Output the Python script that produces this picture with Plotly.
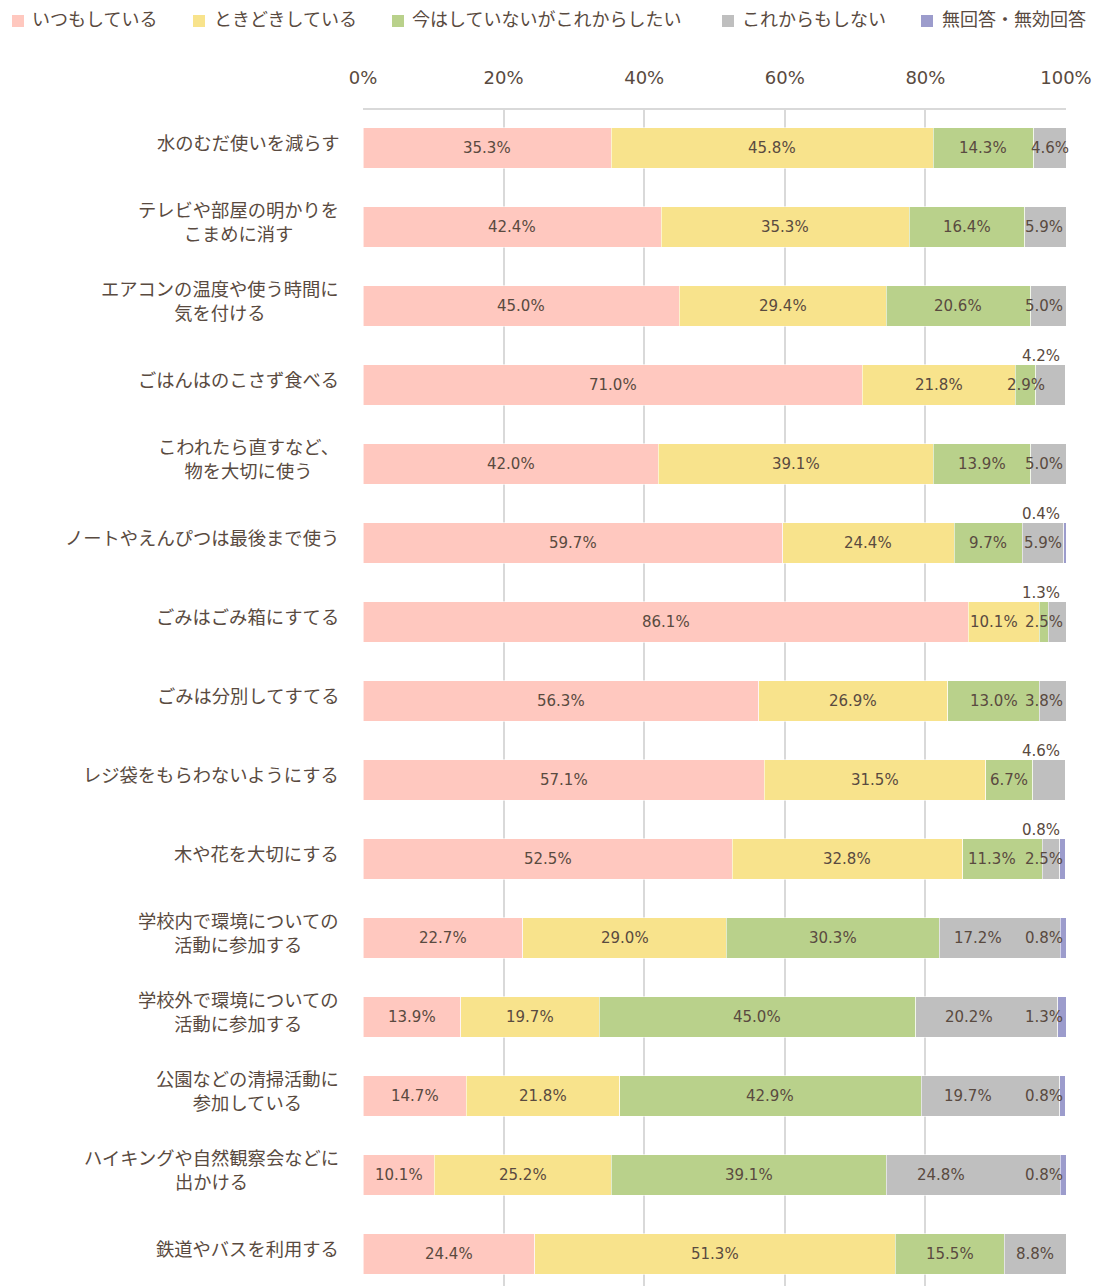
import plotly.graph_objects as go

# ---- data -------------------------------------------------------------
categories = [
    "水のむだ使いを減らす",
    "テレビや部屋の明かりを<br>こまめに消す",
    "エアコンの温度や使う時間に<br>気を付ける",
    "ごはんはのこさず食べる",
    "こわれたら直すなど、<br>物を大切に使う",
    "ノートやえんぴつは最後まで使う",
    "ごみはごみ箱にすてる",
    "ごみは分別してすてる",
    "レジ袋をもらわないようにする",
    "木や花を大切にする",
    "学校内で環境についての<br>活動に参加する",
    "学校外で環境についての<br>活動に参加する",
    "公園などの清掃活動に<br>参加している",
    "ハイキングや自然観察会などに<br>出かける",
    "鉄道やバスを利用する",
]

series_names = ["いつもしている", "ときどきしている", "今はしていないがこれからしたい",
                "これからもしない", "無回答・無効回答"]

always = [35.3, 42.4, 45.0, 71.0, 42.0, 59.7, 86.1, 56.3, 57.1, 52.5, 22.7, 13.9, 14.7, 10.1, 24.4]
sometimes = [45.8, 35.3, 29.4, 21.8, 39.1, 24.4, 10.1, 26.9, 31.5, 32.8, 29.0, 19.7, 21.8, 25.2, 51.3]
will_do = [14.3, 16.4, 20.6, 2.9, 13.9, 9.7, 1.3, 13.0, 6.7, 11.3, 30.3, 45.0, 42.9, 39.1, 15.5]
never = [4.6, 5.9, 5.0, 4.2, 5.0, 5.9, 2.5, 3.8, 4.6, 2.5, 17.2, 20.2, 19.7, 24.8, 8.8]
no_answer = [0.0, 0.0, 0.0, 0.0, 0.0, 0.4, 0.0, 0.0, 0.0, 0.8, 0.8, 1.3, 0.8, 0.8, 0.0]

series_values = [always, sometimes, will_do, never, no_answer]

tick_values = [0, 20, 40, 60, 80, 100]
tick_labels = ["0%", "20%", "40%", "60%", "80%", "100%"]

# labels of narrow segments that are written above the bar: (row, series)
labels_above = [(3, 3), (5, 4), (6, 2), (8, 3), (9, 4)]
# labels nudged left (px) to make room for a neighbour at the bar end
label_nudge = {(6, 1): -10, (9, 2): -10, (10, 3): -22, (11, 3): -18, (12, 3): -22, (13, 3): -32}

# ---- style ------------------------------------------------------------
colors = ["#FFC8BF", "#F8E38C", "#B9D18B", "#BFBFBF", "#9C9CCC"]
text_color = "#594A40"
font_family = "DejaVu Sans, Noto Sans CJK JP, sans-serif"
jp_family = "Noto Sans CJK JP, sans-serif"
value_size = 15

W, H = 1097, 1286
ML, MR, MT, MB = 363, 31, 110, 0
PW, PH = W - ML - MR, H - MT - MB
END_X = 99.8          # right edge used for labels squeezed at the bar end
CHAR_PCT = 10.2 / PW * 100   # approx. width of one label character, in axis %


def px_x(p):
    return (p - ML) / PW


def px_y(p):
    return (H - MB - p) / PH


fig = go.Figure()
for name, vals, col in zip(series_names, series_values, colors):
    fig.add_trace(go.Bar(
        y=categories, x=vals, name=name, orientation="h",
        marker=dict(color=col, line=dict(color="rgba(255,255,255,0.7)", width=0.8)),
        width=0.51, hoverinfo="x+name", showlegend=False,
    ))

annotations = []
value_font = dict(size=value_size, color=text_color, family=font_family)

# value labels on each segment
for r, cat in enumerate(categories):
    start = 0.0
    for s, vals in enumerate(series_values):
        v = vals[r]
        end = start + v
        if v > 0:
            txt = f"{v:.1f}%"
            mid = (start + end) / 2
            half = len(txt) * CHAR_PCT / 2
            if (r, s) in labels_above:
                annotations.append(dict(x=99.4, y=cat, xref="x", yref="y", text=txt,
                                        xanchor="right", yanchor="middle", yshift=29,
                                        showarrow=False, font=value_font))
            elif r > 0 and mid + half > END_X:
                annotations.append(dict(x=END_X, y=cat, xref="x", yref="y", text=txt,
                                        xanchor="right", yanchor="middle",
                                        showarrow=False, font=value_font))
            else:
                annotations.append(dict(x=mid, y=cat, xref="x", yref="y", text=txt,
                                        xanchor="center", yanchor="middle",
                                        xshift=label_nudge.get((r, s), 0),
                                        showarrow=False, font=value_font))
        start = end

# category labels to the left of the plot
for cat in categories:
    annotations.append(dict(x=px_x(341), y=cat, xref="paper", yref="y", text=cat,
                            xanchor="right", yanchor="middle", align="center", yshift=6,
                            showarrow=False,
                            font=dict(size=18.3, color=text_color, family=jp_family)))

# legend along the top
legend_square_x = [12, 193, 392, 722, 921]
legend_text_x = [30, 212, 410, 740, 940]
shapes = []
for name, col, sx, tx in zip(series_names, colors, legend_square_x, legend_text_x):
    shapes.append(dict(type="rect", xref="paper", yref="paper",
                       x0=px_x(sx), x1=px_x(sx + 12), y0=px_y(27), y1=px_y(15),
                       fillcolor=col, line=dict(width=0)))
    annotations.append(dict(x=px_x(tx), y=px_y(18), xref="paper", yref="paper", text=name,
                            xanchor="left", yanchor="middle", showarrow=False,
                            font=dict(size=18, color=text_color, family=jp_family)))

fig.update_layout(
    width=W, height=H,
    margin=dict(l=ML, r=MR, t=MT, b=MB, pad=0),
    barmode="stack",
    plot_bgcolor="white", paper_bgcolor="white",
    annotations=annotations, shapes=shapes,
    showlegend=False,
    xaxis=dict(
        side="top", range=[0, 100], tickvals=tick_values, ticktext=tick_labels,
        showgrid=True, gridcolor="#D9D9D9", gridwidth=2,
        showline=True, linecolor="#D9D9D9", linewidth=2,
        zeroline=False, ticks="", ticklabelstandoff=17,
        tickfont=dict(size=18, color=text_color, family=font_family),
        fixedrange=True,
    ),
    yaxis=dict(
        type="category", categoryorder="array", categoryarray=categories,
        range=[14.405, -0.48], showticklabels=False, showgrid=False,
        zeroline=False, showline=False, ticks="", fixedrange=True,
    ),
)

fig.write_html("out.html")
